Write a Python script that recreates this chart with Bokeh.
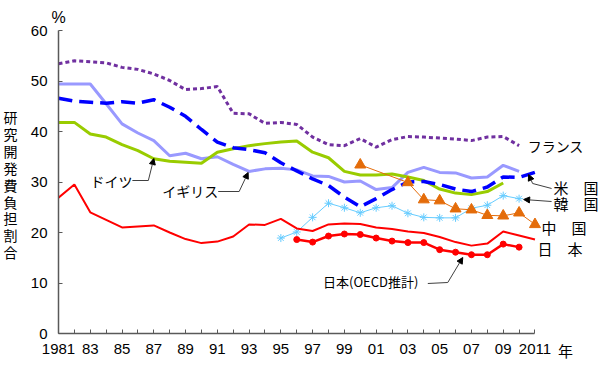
from bokeh.plotting import figure
from bokeh.models import Range1d, FixedTicker, Label, Arrow, NormalHead, LinearAxis
from bokeh.embed import file_html
from bokeh.resources import INLINE

# ---- data ----
years_all = list(range(1981, 2012))
japan = [26.9, 29.5, 24.0, 22.5, 21.0, 21.2, 21.4, 20.0, 18.7, 17.9, 18.2, 19.2,
         21.6, 21.5, 22.7, 20.8, 20.3, 21.6, 21.8, 21.7, 21.0, 20.7, 20.2, 19.9,
         19.1, 18.1, 17.4, 17.8, 20.2, 19.4, 18.6]
years_jp_oecd = list(range(1996, 2011))
japan_oecd = [18.6, 18.1, 19.3, 19.7, 19.6, 18.9, 18.3, 18.0, 18.0, 16.6, 16.1,
              15.6, 15.6, 17.7, 17.1]
usa = [46.6, 46.0, 45.8, 45.6, 45.9, 45.6, 46.3, 44.8, 43.0, 40.4, 37.9, 36.8,
       36.4, 35.8, 33.8, 32.2, 30.6, 29.3, 27.0, 25.1, 26.7, 28.5, 30.0, 30.1,
       29.5, 28.6, 28.1, 29.0, 31.0, 30.9, 31.9]
years_fr = list(range(1981, 2011))
france = [53.4, 54.0, 53.8, 53.6, 52.7, 52.3, 51.4, 50.1, 48.3, 48.5, 48.9, 43.6,
          43.5, 41.6, 41.8, 41.4, 38.9, 37.4, 37.2, 38.6, 36.9, 38.4, 39.0, 38.9,
          38.7, 38.5, 38.2, 38.9, 39.0, 37.2]
years_de = list(range(1981, 2010))
germany = [41.8, 41.8, 39.5, 38.9, 37.4, 36.2, 34.6, 34.1, 33.9, 33.7, 35.9, 36.6,
           37.2, 37.6, 37.9, 38.1, 35.9, 34.8, 32.1, 31.4, 31.4, 31.6, 31.0, 30.3,
           28.6, 27.8, 27.5, 28.1, 29.8]
years_uk = list(range(1981, 2011))
uk = [49.4, 49.4, 49.4, 45.5, 41.5, 39.7, 38.2, 35.2, 35.7, 34.6, 35.0, 33.5,
      32.1, 32.6, 32.7, 32.4, 31.2, 31.1, 30.0, 30.2, 28.5, 28.9, 31.9, 32.9,
      31.9, 31.8, 30.8, 31.0, 33.3, 32.1]
years_kr = list(range(1995, 2011))
korea = [18.9, 20.1, 23.0, 25.8, 24.9, 23.9, 24.9, 25.3, 23.8, 23.0, 22.9, 22.9,
         24.8, 25.4, 27.3, 26.7]
years_cn = [2000, 2003, 2004, 2005, 2006, 2007, 2008, 2009, 2010, 2011]
china = [33.4, 29.9, 26.5, 26.3, 24.7, 24.5, 23.4, 23.3, 23.9, 21.6]

x_ticks = list(range(1981, 2012))
x_tick_labels = {1981: "1981", 1983: "83", 1985: "85", 1987: "87", 1989: "89",
                 1991: "91", 1993: "93", 1995: "95", 1997: "97", 1999: "99",
                 2001: "01", 2003: "03", 2005: "05", 2007: "07", 2009: "09",
                 2011: "2011"}
y_ticks = [0, 10, 20, 30, 40, 50, 60]
y_title = "研究開発費負担割合"

# ---- figure ----
X0, X1 = 1981, 2015
FL, FT, W, H, FB = 57, 30, 598, 368, 35
p = figure(width=W, height=H, output_backend="svg", toolbar_location=None,
           x_range=Range1d(X0, X1), y_range=Range1d(0, 60),
           min_border_left=FL, min_border_right=0, min_border_top=FT,
           min_border_bottom=FB)
p.outline_line_color = None
p.xgrid.visible = False
p.ygrid.visible = False
p.background_fill_color = "white"

AX = "#595959"
NUM_FONT = "Liberation Sans"
JP_FONT = "Noto Sans CJK JP"

p.xaxis.ticker = FixedTicker(ticks=x_ticks)
p.xaxis.major_label_overrides = {t: x_tick_labels.get(t, "") for t in x_ticks}
p.xaxis.bounds = (1981, 2011)
p.yaxis.ticker = FixedTicker(ticks=y_ticks)
for ax in (p.xaxis[0], p.yaxis[0]):
    ax.axis_line_color = AX
    ax.axis_line_width = 1.5
    ax.major_tick_line_color = AX
    ax.major_tick_in = 4
    ax.major_tick_out = 0
    ax.minor_tick_line_color = None
    ax.major_label_text_font = NUM_FONT
    ax.major_label_text_font_size = "15px"
    ax.major_label_text_color = "black"
p.xaxis.major_label_standoff = 10
p.yaxis.major_label_standoff = 11

# px -> data helpers for text placement
PXW = (W - FL) / (X1 - X0)
PYH = (H - FB - FT) / 60
def dx(px):
    return round(X0 + (px - FL) / PXW, 4)
def dy(py):
    return round((H - FB - py) / PYH, 4)

# label-only axes (stacked outside the main axes) for texts outside the frame
def text_axis(side, pos_labels, standoff, size, font):
    ticks = [k for k, _ in pos_labels]
    ax = LinearAxis(ticker=FixedTicker(ticks=ticks),
                    major_label_overrides={k: v for k, v in pos_labels},
                    axis_line_color=None, major_tick_line_color=None,
                    minor_tick_line_color=None, major_tick_in=0, major_tick_out=0,
                    major_label_standoff=standoff, major_label_text_font_size=size,
                    major_label_text_font=font, major_label_text_color="black")
    p.add_layout(ax, side)

text_axis("left", [(dy(116.5 + i * 16.9), ch) for i, ch in enumerate(y_title)],
          10, "14px", JP_FONT)
text_axis("below", [(dx(565), "年")], -17, "15px", JP_FONT)
text_axis("above", [(X0, "%")], 5, "16px", NUM_FONT)

# ---- series ----
p.line(years_fr, france, line_color="#7030A0", line_width=3, line_dash="4 3")
p.line(years_uk, uk, line_color="#9999FF", line_width=3)
p.line(years_de, germany, line_color="#99CC00", line_width=3)
p.line(years_all, usa, line_color="#0000FF", line_width=3.5, line_dash="14 7")
p.line(years_kr, korea, line_color="#66CCFF", line_width=1)
p.scatter(years_kr, korea, marker="asterisk", size=8, line_color="#66CCFF", line_width=1)
p.line(years_cn, china, line_color="#E46C0A", line_width=1)
p.scatter(years_cn, china, marker="triangle", size=11, fill_color="#E46C0A",
          line_color="#E46C0A")
p.line(years_all, japan, line_color="#FF0000", line_width=2)
p.line(years_jp_oecd, japan_oecd, line_color="#FF0000", line_width=2.5)
p.scatter(years_jp_oecd, japan_oecd, marker="circle", size=6, fill_color="#FF0000",
          line_color="#FF0000")

# ---- in-plot texts ----
def lab(text, px, py, size="14px", align="left", font=JP_FONT):
    p.add_layout(Label(x=dx(px), y=dy(py), text=text, text_font=font,
                       text_font_size=size, text_align=align,
                       text_baseline="middle", text_color="black"))

lab("フランス", 527, 145)
lab("米　国", 553, 187, size="15px")
lab("韓　国", 553, 203, size="15px")
lab("中　国", 541, 227, size="15px")
lab("日　本", 537, 248, size="15px")
lab("日本(OECD推計)", 322, 281, size="13px")
lab("ドイツ", 89, 180)
lab("イギリス", 161, 190)

# connectors and arrows
CC = "#404040"
def conn(pts):
    xs = [dx(a) for a, b in pts]
    ys = [dy(b) for a, b in pts]
    if len(pts) > 2:
        p.line(xs[:-1], ys[:-1], line_color=CC, line_width=1)
    p.add_layout(Arrow(end=NormalHead(size=6, fill_color="black", line_color="black"),
                       x_start=xs[-2], y_start=ys[-2], x_end=xs[-1], y_end=ys[-1],
                       line_color=CC, line_width=1))

conn([(131, 180), (147, 180), (152.5, 158)])
conn([(217, 191), (238, 191), (247, 172)])
conn([(551, 188), (532, 183), (528, 174)])
conn([(551, 201), (523, 199)])
conn([(427, 283), (447, 282), (462, 257)])

open("out.html", "w").write(file_html(p, INLINE))
